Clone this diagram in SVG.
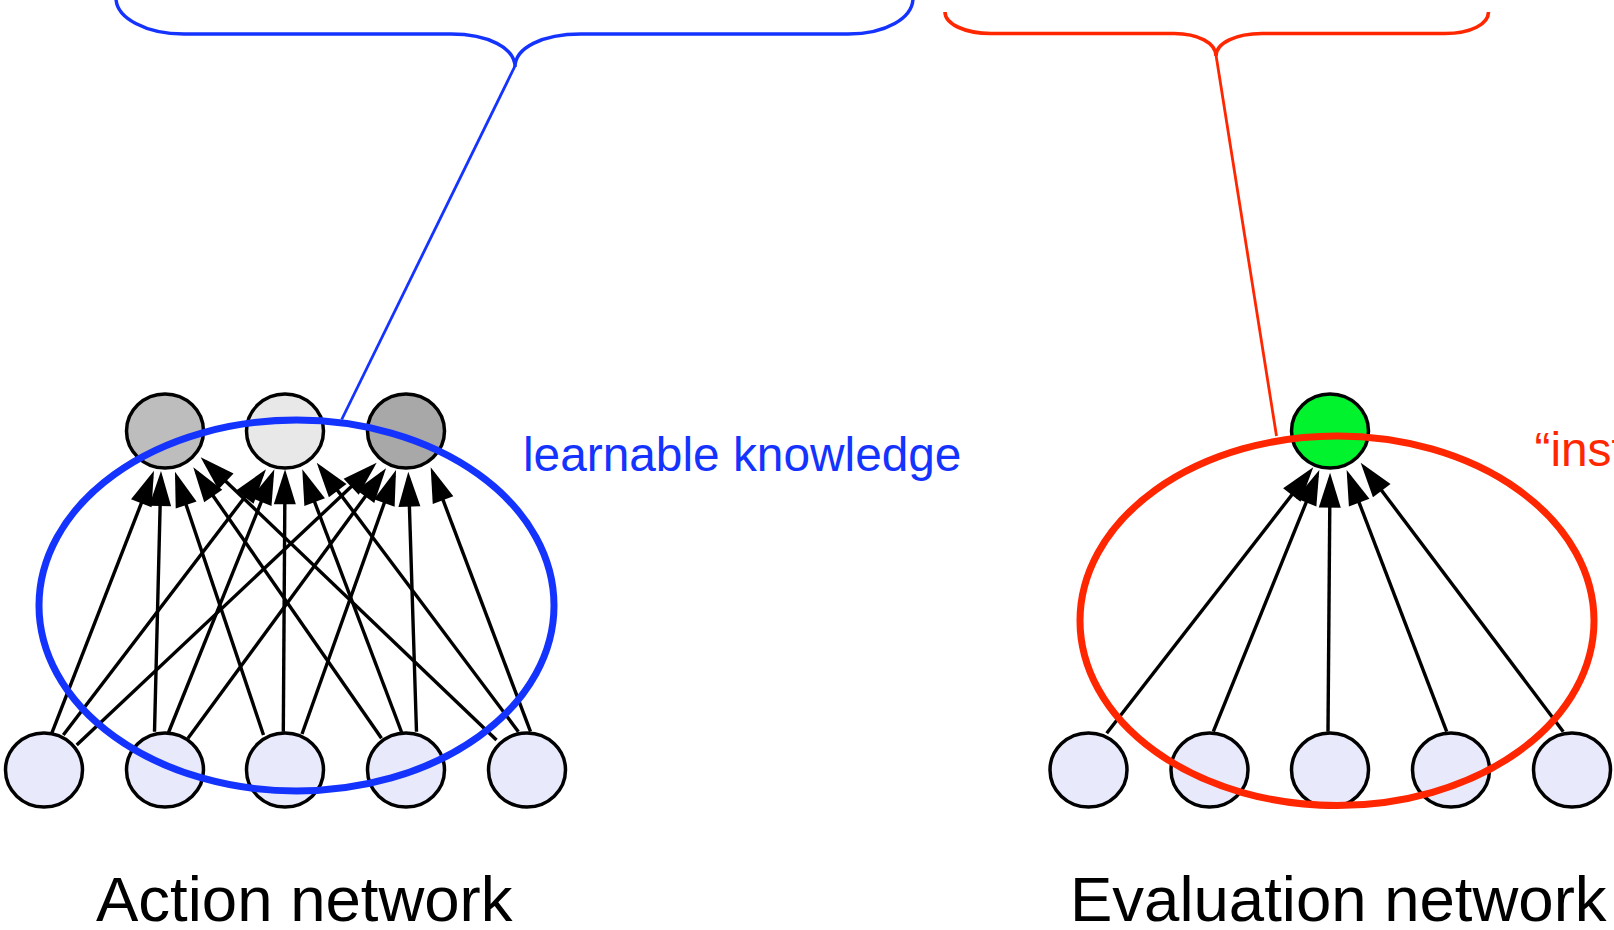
<svg xmlns="http://www.w3.org/2000/svg" width="1614" height="930" viewBox="0 0 1614 930">
  <style>
    .node { stroke: #000; stroke-width: 3.5; }
    .input { fill: #e8eafc; }
    .edge { fill: none; stroke: #000; stroke-width: 3.4; marker-end: url(#arrow); }
    .blue { fill: none; stroke: #1433ff; }
    .red { fill: none; stroke: #ff2600; }
    .lbl { font-family: "Liberation Sans", Arial, sans-serif; }
  </style>
  <defs>
    <marker id="arrow" markerUnits="userSpaceOnUse" markerWidth="36" markerHeight="24" refX="29" refY="11" orient="auto" overflow="visible">
      <path d="M0,0 L35,11 L0,22 z" fill="#000"/>
    </marker>
  </defs>
  <rect width="1614" height="930" fill="#fff"/>

  <!-- weighted connections -->
  <g id="connectors">
    <path class="edge" d="M51.7,733.3 L151.8,476.3"/>
    <path class="edge" d="M63.3,735 L262.4,474.1"/>
    <path class="edge" d="M76.7,745 L372.3,466.8"/>
    <path class="edge" d="M154.5,731.7 L160.85,477"/>
    <path class="edge" d="M168.3,733 L272.1,474.9"/>
    <path class="edge" d="M188,738.3 L382.5,473.1"/>
    <path class="edge" d="M263.5,735 L176.9,477.4"/>
    <path class="edge" d="M283.3,731.7 L285,475.3"/>
    <path class="edge" d="M302,734 L394,475.7"/>
    <path class="edge" d="M381.5,738.3 L196.7,472.2"/>
    <path class="edge" d="M401.7,732.5 L304.4,474.9"/>
    <path class="edge" d="M416.5,731.7 L408.5,477.7"/>
    <path class="edge" d="M496.5,740 L205,461.4"/>
    <path class="edge" d="M518.4,731.7 L320.3,467.5"/>
    <path class="edge" d="M530.5,731.7 L432.8,472.9"/>

    <path class="edge" d="M1106.7,733.3 L1309.6,472"/>
    <path class="edge" d="M1213.3,731.7 L1317.05,475.6"/>
    <path class="edge" d="M1328,731.7 L1330,478.7"/>
    <path class="edge" d="M1446.7,731.7 L1348.8,475.6"/>
    <path class="edge" d="M1563.3,731.7 L1364.3,467.5"/>
  </g>

  <!-- action network: outputs -->
  <g id="action-out-1"><ellipse class="node" cx="165" cy="431" rx="38.5" ry="37" fill="#bdbdbd"/></g>
  <g id="action-out-2"><ellipse class="node" cx="285" cy="431" rx="38.5" ry="37" fill="#e8e8e8"/></g>
  <g id="action-out-3"><ellipse class="node" cx="406" cy="431" rx="38.5" ry="37" fill="#a8a8a8"/></g>
  <!-- action network: inputs -->
  <g id="action-in-1"><ellipse class="node input" cx="44" cy="770" rx="38.5" ry="37"/></g>
  <g id="action-in-2"><ellipse class="node input" cx="165" cy="770" rx="38.5" ry="37"/></g>
  <g id="action-in-3"><ellipse class="node input" cx="285" cy="770" rx="38.5" ry="37"/></g>
  <g id="action-in-4"><ellipse class="node input" cx="406" cy="770" rx="38.5" ry="37"/></g>
  <g id="action-in-5"><ellipse class="node input" cx="527" cy="770" rx="38.5" ry="37"/></g>

  <!-- evaluation network -->
  <g id="eval-out"><ellipse class="node" cx="1330" cy="431" rx="38.5" ry="37" fill="#00f32c"/></g>
  <g id="eval-in-1"><ellipse class="node input" cx="1088.5" cy="770" rx="38.5" ry="37"/></g>
  <g id="eval-in-2"><ellipse class="node input" cx="1209.5" cy="770" rx="38.5" ry="37"/></g>
  <g id="eval-in-3"><ellipse class="node input" cx="1330" cy="770" rx="38.5" ry="37"/></g>
  <g id="eval-in-4"><ellipse class="node input" cx="1451" cy="770" rx="38.5" ry="37"/></g>
  <g id="eval-in-5"><ellipse class="node input" cx="1572" cy="770" rx="38.5" ry="37"/></g>

  <!-- learnable part (blue) -->
  <g id="learnable">
    <ellipse class="blue" cx="296.5" cy="605.5" rx="257.5" ry="185.5" stroke-width="7"/>
    <path class="blue" stroke-width="2.8" d="M515,66 L341.7,419.5"/>
    <path class="blue" stroke-width="3.4" d="M116,-2 C116,18 146,34 184,34 L451,34 C488,34 515,48 515,67 C515,48 542,34 581,34 L848,34 C886,34 913,18 913,-2"/>
    <text class="lbl" x="523" y="471" font-size="47.8" fill="#1433ff">learnable knowledge</text>
  </g>

  <!-- fixed part (red) -->
  <g id="instinct">
    <ellipse class="red" cx="1337" cy="620.75" rx="257" ry="184.75" stroke-width="7"/>
    <path class="red" stroke-width="2.8" d="M1216,55 L1276.5,436"/>
    <path class="red" stroke-width="3.6" d="M945,12 C945,24 965,33.5 991,33.5 L1174,33.5 C1198,33.5 1216,43 1216,56 C1216,43 1236,33.5 1262,33.5 L1445,33.5 C1471,33.5 1488.5,24 1488.5,12"/>
    <text class="lbl" x="1534.5" y="466" font-size="47.8" fill="#ff2600">“inst</text>
  </g>

  <!-- captions -->
  <text class="lbl" x="96" y="921" font-size="63.5" fill="#000">Action network</text>
  <text class="lbl" x="1070" y="921" font-size="63.5" fill="#000">Evaluation network</text>
</svg>
